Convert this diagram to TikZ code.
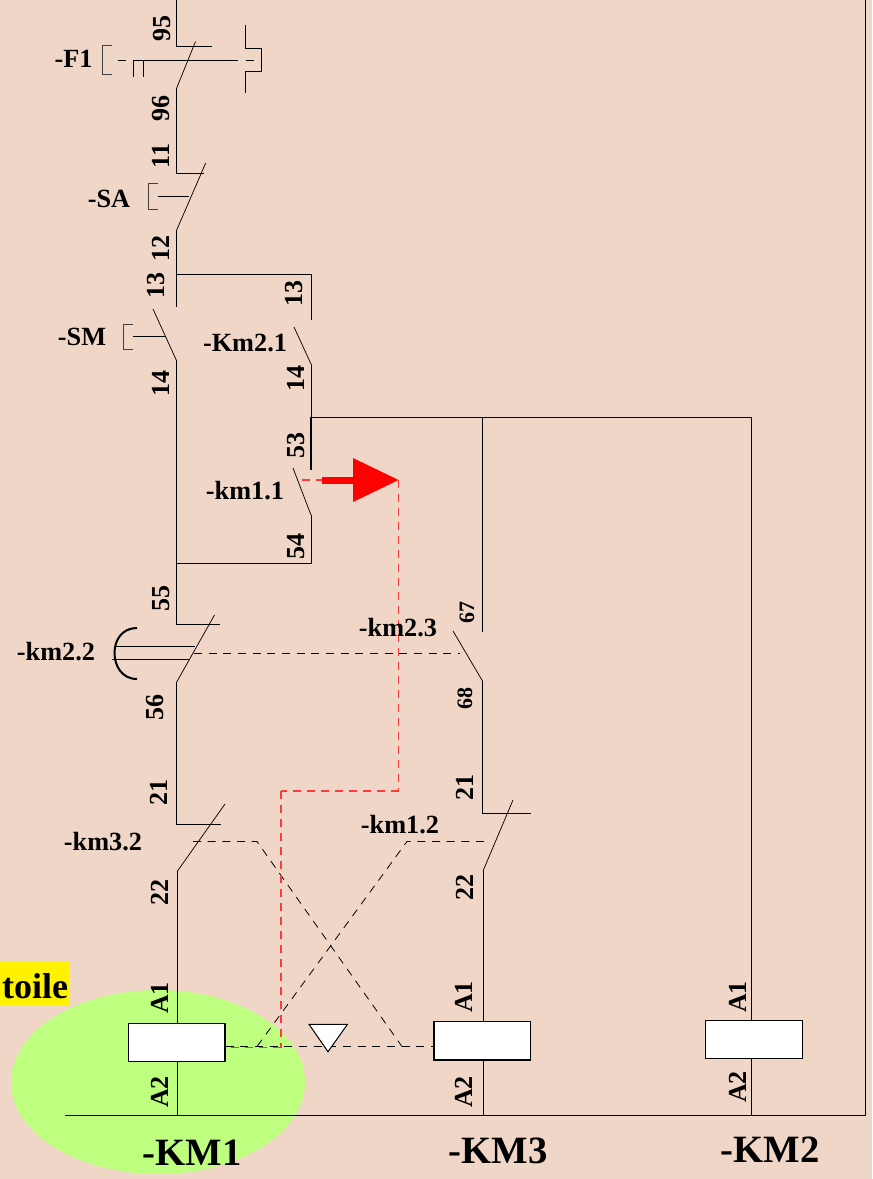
\documentclass[tikz,border=0pt]{standalone}
\usepackage{fontspec}
\setmainfont{Liberation Serif}
\definecolor{bgc}{HTML}{F0D6C7}
\definecolor{elc}{HTML}{BFFF80}
\definecolor{redc}{HTML}{FF3A3A}
\tikzset{
  wire/.style={draw=black,line width=0.75pt,line cap=butt},
  thin wire/.style={draw=black,line width=0.55pt},
  dash line/.style={draw=black,line width=0.6pt,dash pattern=on 6pt off 5pt},
  red dash/.style={draw=redc,line width=0.95pt,dash pattern=on 6pt off 4.5pt},
  lab/.style={font=\fontsize{19.7}{20}\selectfont\bfseries,inner sep=0pt},
  num/.style={font=\fontsize{19.5}{20}\selectfont\bfseries,inner sep=0pt,rotate=90},
  big/.style={font=\fontsize{29}{30}\selectfont\bfseries,inner sep=0pt},
  coil/.style={draw=black,fill=white,line width=0.9pt,minimum width=72.5pt,minimum height=29pt,inner sep=0pt},
}
\begin{document}
\begin{tikzpicture}[x=0.75pt,y=-0.75pt]
\useasboundingbox (0,0) rectangle (872,1179);
\fill[bgc] (0,0) rectangle (872,1179);
\fill[elc] (158,1082) ellipse [x radius=147,y radius=92];
\node[fill=yellow,minimum width=51.75pt,minimum height=32.25pt,inner sep=0pt] (ybox) at (34.5,983.5) {};
\node[font=\fontsize{27}{27}\selectfont\bfseries,inner sep=0pt] (toile) at (35,986) {toile};

% coils
\node[coil] (KM1) at (176.75,1042.5) {};
\node[coil] (KM3) at (482.25,1040.75) {};
\node[coil] (KM2) at (754,1039.5) {};

% named points
\coordinate (top) at (176.7,0);
\coordinate (f1a) at (176.7,46.5);
\coordinate (f1b) at (212,46.5);
\coordinate (f1c) at (176.7,88);
\coordinate (f1d) at (195.5,41.5);
\coordinate (saa) at (176.7,173);
\coordinate (sab) at (204,173);
\coordinate (sac) at (176.7,230);
\coordinate (sad) at (205.7,163);
\coordinate (j1) at (176.7,274.5);
\coordinate (j1r) at (311,274.5);
\coordinate (sma) at (176.7,307);
\coordinate (smb) at (153,309);
\coordinate (smc) at (176.7,361);
\coordinate (j2) at (176.7,563.5);
\coordinate (j2r) at (311,563.5);
\coordinate (kma) at (311,320);
\coordinate (kmb) at (294,327);
\coordinate (kmc) at (311,364);
\coordinate (j3) at (311,417);
\coordinate (j4) at (482.5,417);
\coordinate (j5) at (751.8,417);
\coordinate (kd) at (311,470);
\coordinate (ke) at (293,468);
\coordinate (kf) at (311,515);
\coordinate (m1) at (176.7,624);
\coordinate (m2) at (220,624);
\coordinate (m3) at (176.7,682);
\coordinate (m4) at (214.5,615);
\coordinate (n1) at (176.7,824);
\coordinate (n2) at (221,824);
\coordinate (n3) at (177.5,871);
\coordinate (n4) at (225,804);
\coordinate (p1) at (482.5,632);
\coordinate (p2) at (453,631);
\coordinate (p3) at (482.5,681);
\coordinate (q1) at (482.5,813);
\coordinate (q2) at (531,813);
\coordinate (q3) at (483,871);
\coordinate (q4) at (513,800);
\coordinate (busl) at (65,1115.5);
\coordinate (busr) at (865,1115.5);
\coordinate (topr) at (865,0);

% wiring
\draw[wire] (top) -- (f1a) -- (f1b);
\draw[thin wire] (f1c) -- (f1d);
\draw[wire] (f1c) -- (saa) -- (sab);
\draw[thin wire] (sac) -- (sad);
\draw[wire] (sac) -- (sma);
\draw[wire] (j1) -- (j1r) -- (kma);
\draw[thin wire] (smb) -- (smc);
\draw[thin wire] (kmb) -- (kmc);
\draw[wire] (kmc) -- (j3);
\draw[line width=1.1pt] (j3) -- (kd);
\draw[thin wire] (ke) -- (kf);
\draw[wire] (kf) -- (j2r) -- (j2) -- (smc);
\draw[wire] (j2) -- (m1) -- (m2);
\draw[thin wire] (m3) -- (m4);
\draw[wire] (m3) -- (n1) -- (n2);
\draw[thin wire] (n3) -- (n4);
\draw[wire] (n3) -- (KM1.north -| n3);
\draw[wire] (KM1.south -| n3) -- (n3 |- busl);
\draw[wire] (j3) -- (j5);
\draw[wire] (j4) -- (p1);
\draw[thin wire] (p2) -- (p3);
\draw[wire] (p3) -- (q1) -- (q2);
\draw[thin wire] (q3) -- (q4);
\draw[wire] (q3) -- (KM3.north -| q3);
\draw[wire] (KM3.south -| q3) -- (q3 |- busl);
\draw[wire] (j5) -- (KM2.north -| j5);
\draw[wire] (KM2.south -| j5) -- (j5 |- busl);
\draw[wire] (topr) -- (busr) -- (busl);

% F1 actuators
\coordinate (fb1) at (112,45.5);
\coordinate (fb2) at (102.5,45.5);
\coordinate (fb3) at (102.5,74);
\coordinate (fb4) at (112,74);
\draw[wire,draw=black!75] (fb1) -- (fb2) -- (fb3) -- (fb4);
\coordinate (fl0) at (118,60);
\coordinate (fl1) at (133.5,60);
\coordinate (fl2) at (238,60);
\coordinate (fl3) at (246,60);
\coordinate (fl4) at (261,60);
\draw[thin wire,dash pattern=on 6pt off 5pt] (fl0) -- (fl1);
\draw[thin wire] (fl1) -- (fl2);
\draw[thin wire,dash pattern=on 6pt off 5pt] (fl3) -- (fl4);
\draw[wire] (133.5,60) -- (133.5,77);
\draw[wire] (143.8,60) -- (143.8,77);
\draw[wire] (245,25) -- (245,48.5) -- (261,48.5) -- (261,71) -- (245,71) -- (245,93);

% SA, SM actuators
\draw[wire,draw=black!75] (158,183.5) -- (148,183.5) -- (148,209) -- (158,209);
\coordinate (sl1) at (158,196.5);
\coordinate (sl2) at (189,196.5);
\draw[thin wire] (sl1) -- (sl2);
\draw[wire,draw=black!75] (133,324) -- (123,324) -- (123,349) -- (133,349);
\coordinate (sl3) at (133,336);
\coordinate (sl4) at (165,336);
\draw[thin wire] (sl3) -- (sl4);

% km2.2 actuator
\draw[line width=1.5pt] (137,628) .. controls (122,628) and (114.5,640) .. (114.5,653) .. controls (114.5,666) and (122,679) .. (137,679);
\coordinate (a1) at (114,646.5);
\coordinate (a2) at (195,646.5);
\coordinate (a3) at (112,659.3);
\coordinate (a4) at (189,659.3);
\draw[thin wire] (a1) -- (a2);
\draw[thin wire] (a3) -- (a4);

% mechanical links
\coordinate (l1) at (194,653.5);
\coordinate (l2) at (460,653.5);
\draw[dash line] (l1) -- (l2);
\coordinate (x1) at (193,841.5);
\coordinate (x2) at (257,841.5);
\coordinate (x3) at (402,1046.5);
\coordinate (y1) at (484,841.5);
\coordinate (y2) at (407,841.5);
\coordinate (y3) at (257,1046.5);
\draw[dash line] (x1) -- (x2) -- (x3);
\draw[dash line] (y1) -- (y2) -- (y3);

% red interlock path
\coordinate (r0) at (302,480);
\coordinate (r1) at (322,480);
\coordinate (r2) at (398.5,480);
\coordinate (r3) at (398.5,791);
\coordinate (r4) at (281,791);
\coordinate (r5) at (281,1047.5);
\draw[red dash] (r0) -- (r1);
\draw[red dash] (r2) -- (r3);
\draw[red dash] (r3) -- (r4);
\draw[red dash] (r4) -- (r5);
\draw[red dash] (r5) -- (KM1.east |- r5);
\draw[dash line] (KM1.east |- x3) -- (KM3.west |- x3);
\draw[line width=5.25pt,draw=red] (r1) -- (355,480);
\fill[red] (353,458) -- (r2) -- (353,502) -- cycle;

% triangle
\draw[fill=white,line width=0.75pt] (309,1024.3) -- (347.5,1024.3) -- (328,1051.7) -- cycle;

% terminal numbers
\node[num] (t95) at (162,28) {95};
\node[num] (t96) at (161,108) {96};
\node[num] (t11) at (161,156) {11};
\node[num] (t12) at (161,248) {12};
\node[num] (t13a) at (156.5,285) {13};
\node[num] (t13b) at (294,293) {13};
\node[num] (t14a) at (161,383) {14};
\node[num] (t14b) at (296,378) {14};
\node[num] (t53) at (296,445) {53};
\node[num] (t54) at (296,546) {54};
\node[num] (t55) at (161,598) {55};
\node[num] (t56) at (155,707) {56};
\node[num] (t21a) at (159,792) {21};
\node[num] (t22a) at (160,892) {22};
\node[num,font=\fontsize{16.5}{17}\selectfont\bfseries] (t67) at (467,612) {67};
\node[num,font=\fontsize{16.5}{17}\selectfont\bfseries] (t68) at (465,698) {68};
\node[num] (t21b) at (465,787) {21};
\node[num] (t22b) at (465,887) {22};
\node[num] (a1a) at (160,998) {A1};
\node[num] (a2a) at (160,1092) {A2};
\node[num] (a1b) at (464,997) {A1};
\node[num] (a2b) at (464,1092) {A2};
\node[num] (a1c) at (738,997) {A1};
\node[num] (a2c) at (738,1087) {A2};

% labels
\node[lab] (lF1) at (73.5,59) {-F1};
\node[lab] (lSA) at (109,199) {-SA};
\node[lab] (lSM) at (82,337) {-SM};
\node[lab] (lKm21) at (245,343) {-Km2.1};
\node[lab] (lkm11) at (245,491) {-km1.1};
\node[lab] (lkm22) at (56,652) {-km2.2};
\node[lab] (lkm23) at (398,628) {-km2.3};
\node[lab] (lkm32) at (103,842) {-km3.2};
\node[lab] (lkm12) at (400,825) {-km1.2};
\node[big] (bKM1) at (192,1153) {-KM1};
\node[big] (bKM3) at (498,1151) {-KM3};
\node[big] (bKM2) at (770,1150) {-KM2};
\end{tikzpicture}
\end{document}
